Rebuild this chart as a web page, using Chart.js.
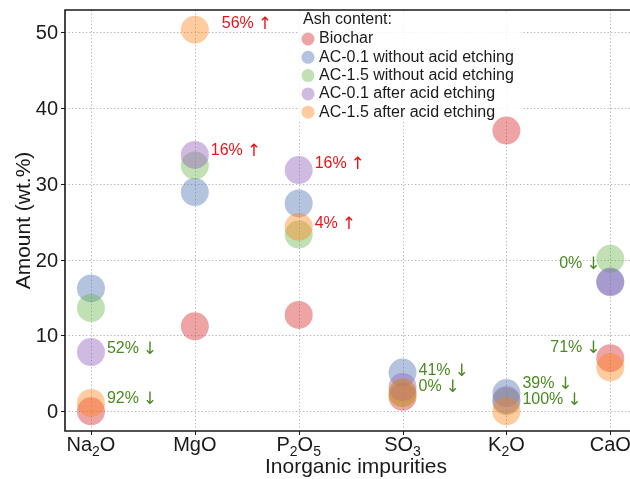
<!DOCTYPE html>
<html>
<head>
<meta charset="utf-8">
<script src="https://cdn.jsdelivr.net/npm/chart.js@4"></script>
<style>
  html, body { margin: 0; padding: 0; background: #fff; overflow: hidden; }
  canvas { display: block; }
</style>
</head>
<body>
<canvas id="chart" width="630" height="479"></canvas>
<script>
const categories = ["Na2O", "MgO", "P2O5", "SO3", "K2O", "CaO"];
const yTicks = [0, 10, 20, 30, 40, 50];

const biochar = [0.0, 11.2, 12.7, 1.9, 37.0, 7.0];
const ac01 = [16.2, 28.9, 27.4, 5.1, 2.4, 17.1];
const ac15 = [13.6, 32.4, 23.3, 2.4, 1.3, 20.1];
const ac01Etched = [7.8, 33.8, 31.8, 3.2, 1.5, 17.0];
const ac15Etched = [1.1, 50.3, 24.3, 2.5, 0.0, 5.8];

const seriesNames = [
  "Biochar",
  "AC-0.1 without acid etching",
  "AC-1.5 without acid etching",
  "AC-0.1 after acid etching",
  "AC-1.5 after acid etching",
];

// change labels: text, category, value where the text sits, direction
const noteText = ["56%", "16%", "16%", "4%", "52%", "92%", "41%", "0%", "39%", "100%", "0%", "71%"];
const noteCat = [1, 1, 2, 2, 0, 0, 3, 3, 4, 4, 5, 5];
const noteValue = [51.1, 34.4, 32.6, 24.8, 8.3, 1.7, 5.3, 3.3, 3.7, 1.6, 19.5, 8.4];
const noteUp = [true, true, true, true, false, false, false, false, false, false, false, false];

const FONT = "'Liberation Sans', Arial, sans-serif";
const ARROW_FONT = "'DejaVu Sans', sans-serif";
const RED = "#e8141a";
const GREEN = "#4b8a22";
const colors = [
  "rgba(214,39,40,0.42)",
  "rgba(76,114,176,0.42)",
  "rgba(100,180,70,0.4)",
  "rgba(148,103,189,0.45)",
  "rgba(255,127,14,0.4)",
];

function dataSet(label, values, i) {
  return {
    label: label,
    data: values.map((v, k) => ({ x: k, y: v })),
    backgroundColor: colors[i],
    borderWidth: 0,
    pointRadius: 14,
    pointHoverRadius: 14,
    order: 10 - i,
  };
}

function drawFormula(ctx, text, cx, baseline, size, sub) {
  const parts = text.split(/(\d+)/).filter((p) => p.length);
  let w = 0;
  parts.forEach((p) => {
    ctx.font = (/^\d+$/.test(p) ? sub : size) + "px " + FONT;
    w += ctx.measureText(p).width;
  });
  let px = cx - w / 2;
  ctx.textAlign = "left";
  ctx.textBaseline = "alphabetic";
  parts.forEach((p) => {
    const isSub = /^\d+$/.test(p);
    ctx.font = (isSub ? sub : size) + "px " + FONT;
    ctx.fillText(p, px, baseline + (isSub ? 5 : 0));
    px += ctx.measureText(p).width;
  });
}

const decor = {
  id: "decor",
  beforeDatasetsDraw(chart) {
    const { ctx, chartArea: a, scales: { x, y } } = chart;
    ctx.save();
    ctx.strokeStyle = "#b3b3b3";
    ctx.lineWidth = 1;
    ctx.setLineDash([1.3, 2.2]);
    categories.forEach((c, i) => {
      const px = Math.round(x.getPixelForValue(i)) + 0.5;
      ctx.beginPath();
      ctx.moveTo(px, a.top);
      ctx.lineTo(px, a.bottom);
      ctx.stroke();
    });
    yTicks.forEach((v) => {
      const py = Math.round(y.getPixelForValue(v)) + 0.5;
      ctx.beginPath();
      ctx.moveTo(a.left, py);
      ctx.lineTo(a.right, py);
      ctx.stroke();
    });
    // legend background
    ctx.setLineDash([]);
    ctx.fillStyle = "rgba(255,255,255,0.85)";
    ctx.fillRect(299, a.top + 2, 222, 110);
    ctx.restore();
  },
  afterDatasetsDraw(chart) {
    const { ctx, chartArea: a, scales: { x, y } } = chart;
    ctx.save();
    // frame
    ctx.strokeStyle = "#1a1a1a";
    ctx.lineWidth = 1.6;
    ctx.beginPath();
    ctx.moveTo(a.right + 4, a.top);
    ctx.lineTo(a.left, a.top);
    ctx.lineTo(a.left, a.bottom);
    ctx.lineTo(a.right + 4, a.bottom);
    ctx.stroke();
    ctx.lineWidth = 1;
    ctx.fillStyle = "#1a1a1a";
    ctx.font = "20px " + FONT;
    ctx.textAlign = "right";
    ctx.textBaseline = "middle";
    yTicks.forEach((v) => {
      const py = Math.round(y.getPixelForValue(v)) + 0.5;
      ctx.beginPath();
      ctx.moveTo(a.left - 4, py);
      ctx.lineTo(a.left, py);
      ctx.stroke();
      ctx.fillText(String(v), a.left - 7, py + 1);
    });
    categories.forEach((c, i) => {
      const px = Math.round(x.getPixelForValue(i)) + 0.5;
      ctx.beginPath();
      ctx.moveTo(px, a.bottom);
      ctx.lineTo(px, a.bottom + 4);
      ctx.stroke();
    });

    // x tick labels with subscripts
    categories.forEach((c, i) => {
      drawFormula(ctx, c, x.getPixelForValue(i), a.bottom + 20, 20, 14);
    });

    // axis titles
    ctx.font = "21px " + FONT;
    ctx.textAlign = "center";
    ctx.textBaseline = "middle";
    ctx.fillText("Inorganic impurities", 356, 467);
    ctx.save();
    ctx.translate(24, (a.top + a.bottom) / 2);
    ctx.rotate(-Math.PI / 2);
    ctx.fillText("Amount (wt.%)", 0, 0);
    ctx.restore();

    // legend
    ctx.textAlign = "left";
    ctx.textBaseline = "middle";
    ctx.font = "16px " + FONT;
    ctx.fillStyle = "#1a1a1a";
    ctx.fillText("Ash content:", 303, 20);
    chart.data.datasets.forEach((ds, i) => {
      const ly = 39 + i * 18.3;
      ctx.fillStyle = ds.backgroundColor;
      ctx.beginPath();
      ctx.arc(308, ly, 6.5, 0, Math.PI * 2);
      ctx.fill();
      ctx.fillStyle = "#1a1a1a";
      ctx.fillText(ds.label, 319, ly);
    });

    // change notes: number text + arrow glyph
    noteText.forEach((t, i) => {
      const right = noteCat[i] === categories.length - 1;
      const cx = x.getPixelForValue(noteCat[i]);
      const py = y.getPixelForValue(noteValue[i]);
      ctx.font = "16px " + FONT;
      const w = ctx.measureText(t).width;
      const start = right ? cx - 17 - 11 - w : cx + (i === 0 ? 27 : 16);
      ctx.fillStyle = noteUp[i] ? RED : GREEN;
      ctx.textAlign = "left";
      ctx.textBaseline = "middle";
      ctx.fillText(t, start, py);
      ctx.font = "17px " + ARROW_FONT;
      ctx.textAlign = "center";
      ctx.fillText(noteUp[i] ? "↑" : "↓", start + w + 11, py + 1);
    });
    ctx.restore();
  },
};

new Chart(document.getElementById("chart"), {
  type: "scatter",
  data: {
    datasets: [
      dataSet(seriesNames[0], biochar, 0),
      dataSet(seriesNames[1], ac01, 1),
      dataSet(seriesNames[2], ac15, 2),
      dataSet(seriesNames[3], ac01Etched, 3),
      dataSet(seriesNames[4], ac15Etched, 4),
    ],
  },
  options: {
    responsive: false,
    animation: false,
    devicePixelRatio: 1,
    layout: { autoPadding: false, padding: { top: 10, right: 0, bottom: 0, left: 0 } },
    plugins: { legend: { display: false }, tooltip: { enabled: false } },
    scales: {
      x: {
        type: "linear",
        min: -0.25,
        max: 5.19,
        grid: { display: false, drawTicks: false },
        border: { display: false },
        ticks: { display: false },
        afterFit: (s) => { s.height = 48; },
      },
      y: {
        min: -2.6,
        max: 52.9,
        grid: { display: false, drawTicks: false },
        border: { display: false },
        ticks: { display: false },
        afterFit: (s) => { s.width = 65; },
      },
    },
  },
  plugins: [decor],
});
</script>
</body>
</html>
